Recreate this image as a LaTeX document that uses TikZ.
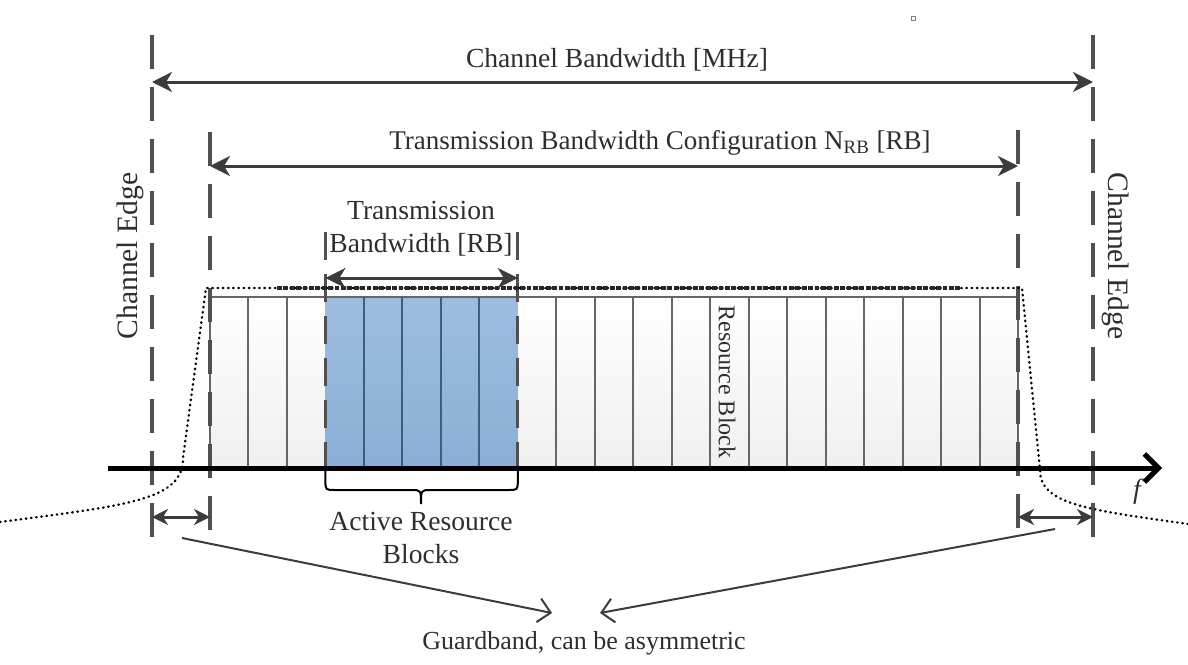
\documentclass[tikz,border=0pt]{standalone}
\usepackage{fontspec}
\setmainfont{Liberation Serif}
\usetikzlibrary{arrows.meta}
\definecolor{edgegray}{HTML}{505050}
\definecolor{arrowgray}{HTML}{3C3C3C}
\definecolor{rbblue}{HTML}{8AAFD6}
\definecolor{rbbluetop}{HTML}{9DBDE0}
\definecolor{rbline}{HTML}{3F5E7E}
\definecolor{gridline}{HTML}{666666}
\definecolor{txt}{HTML}{2E2E2E}
\tikzset{
  lbl/.style={inner sep=0pt, text=txt, font=\fontsize{13.8}{16.5}\selectfont},
  smalllbl/.style={inner sep=0pt, text=txt, font=\fontsize{12}{14}\selectfont},
  edgeline/.style={draw=edgegray, line width=2pt, dash pattern=on 17pt off 9pt},
  activeline/.style={draw=edgegray, line width=1.5pt, dash pattern=on 14pt off 7pt},
  bwarrow/.style={draw=arrowgray, line width=1.5pt,
    {Stealth[length=10pt,width=10pt,inset=3pt]}-{Stealth[length=10pt,width=10pt,inset=3pt]}},
  gdarrow/.style={draw=arrowgray, line width=1.5pt,
    {Stealth[length=8pt,width=8pt,inset=2.5pt]}-{Stealth[length=8pt,width=8pt,inset=2.5pt]}},
  pointer/.style={draw=arrowgray, line width=1pt, -{Straight Barb[length=6pt,width=12pt]}},
  mask/.style={draw=black, line width=1.2pt, line cap=round, dash pattern=on 0.3pt off 2.3pt},
  maskdense/.style={draw=black!85, line width=1.6pt, dash pattern=on 2.4pt off 0.8pt},
  faxis/.style={draw=black, line width=2.5pt, -{Straight Barb[length=7pt,width=14pt]}},
}
\begin{document}
\begin{tikzpicture}[x=0.5pt,y=-0.5pt]
\useasboundingbox (0,0) rectangle (1188,664);

% resource block grid
\shade[top color=white, bottom color=gray!12] (210,297) rectangle (1018,468);
\shade[top color=rbbluetop, bottom color=rbblue] (325.4,297) rectangle (517.8,468);
\draw[gridline, line width=0.6pt] (210,297) -- (1018,297);
\draw[gridline, line width=1pt] (210,297) -- (210,468) (1018,297) -- (1018,468);
\foreach \i in {1,2,9,10,...,20}
  \draw[gridline, line width=1pt] ({210+\i*38.476},297) -- ({210+\i*38.476},468);
\foreach \i in {4,...,7}
  \draw[rbline, line width=1pt] ({210+\i*38.476},297) -- ({210+\i*38.476},468);
\node[smalllbl, rotate=-90] (rblk) at (727,382) {Resource Block};

% channel and transmission edges
\draw[edgeline] (152,35) -- (152,542);
\draw[edgeline] (1093,35) -- (1093,542);
\draw[edgeline] (210,132) -- (210,540);
\draw[edgeline] (1018,130) -- (1018,540);
\draw[activeline] (325.4,232) -- (325.4,470);
\draw[activeline] (517.8,232) -- (517.8,470);

% spectrum emission mask
\draw[mask] (0,522) .. controls (130,505) and (183,500) .. (183,458)
  -- (206,288) -- (1022,288) -- (1040,470)
  .. controls (1040,505) and (1090,510) .. (1188,524);
\draw[maskdense] (277,288) -- (960,288);

% frequency axis
\coordinate (ax0) at (108,468);
\coordinate (ax1) at (1162,468);
\draw[faxis] (ax0) -- (ax1);
\node[lbl, font=\fontsize{13.8}{16.5}\selectfont\itshape] (fl) at (1137,492) {f};

% bandwidth arrows
\coordinate (chL) at (152,82);
\coordinate (chR) at (1093,82);
\draw[bwarrow] (chL) -- (chR);
\node[lbl] (cbw) at (617,60) {Channel Bandwidth [MHz]};

\coordinate (tcL) at (210,166);
\coordinate (tcR) at (1018,166);
\draw[bwarrow] (tcL) -- (tcR);
\node[lbl, font=\fontsize{13.5}{16.5}\selectfont] (tbc) at (660,143) {Transmission Bandwidth Configuration N\textsubscript{RB} [RB]};

\coordinate (tbL) at (325.4,278);
\coordinate (tbR) at (517.8,278);
\draw[bwarrow] (tbL) -- (tbR);
\node[lbl, align=center] (tbw) at (421,229) {Transmission\\Bandwidth [RB]};

% channel edge labels
\node[lbl, font=\fontsize{14.8}{17}\selectfont, rotate=90] (ceL) at (130,256) {Channel Edge};
\node[lbl, font=\fontsize{14.8}{17}\selectfont, rotate=-90] (ceR) at (1116,256) {Channel Edge};

% brace under the active resource blocks
\draw[black, line width=1pt] (325.4,468) -- (325.4,480)
  .. controls (325.4,490) .. (335,490) -- (411,490)
  .. controls (421,490) .. (421,504)
  .. controls (421,490) .. (431,490) -- (508,490)
  .. controls (517.8,490) .. (517.8,480) -- (517.8,468);
\node[lbl, align=center] (arb) at (421,538) {Active Resource\\Blocks};

% guard bands
\coordinate (gdL0) at (152,517);
\coordinate (gdL1) at (210,517);
\draw[gdarrow] (gdL0) -- (gdL1);
\coordinate (gdR0) at (1018,517);
\coordinate (gdR1) at (1093,517);
\draw[gdarrow] (gdR0) -- (gdR1);

\node[lbl, font=\fontsize{13}{16}\selectfont] (gb) at (584,643) {Guardband, can be asymmetric};
\coordinate (pL) at (182,538);
\coordinate (pLtip) at (552,613);
\coordinate (pR) at (1055,529);
\coordinate (pRtip) at (600,613);
\draw[pointer] (pL) -- (pLtip);
\draw[pointer] (pR) -- (pRtip);

% small mark near the top
\draw[gray, line width=0.5pt] (911,16) rectangle (915,20);
\end{tikzpicture}
\end{document}
